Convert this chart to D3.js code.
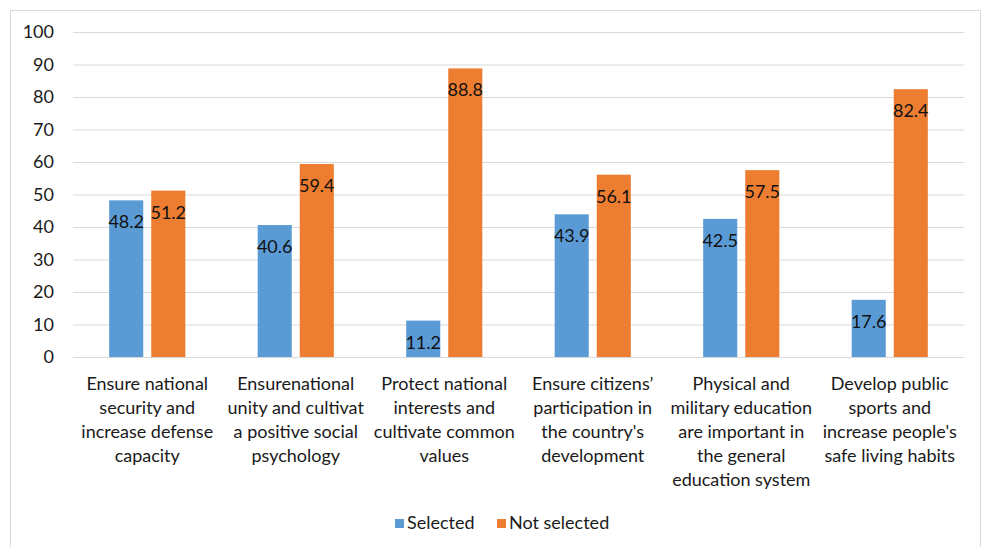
<!DOCTYPE html>
<html><head><meta charset="utf-8">
<script src="https://cdn.jsdelivr.net/npm/d3@7"></script>
<style>body{margin:0;background:#fff}svg{display:block}text{font-family:Lato,"Open Sans",sans-serif}</style>
</head><body><svg id="c" width="983" height="547"></svg>
<script>
const categories = [
  "Ensure national\nsecurity and\nincrease defense\ncapacity",
  "Ensurenational\nunity and cultivat\na positive social\npsychology",
  "Protect national\ninterests and\ncultivate common\nvalues",
  "Ensure citizens’\nparticipation in\nthe country's\ndevelopment",
  "Physical and\nmilitary education\nare important in\nthe general\neducation system",
  "Develop public\nsports and\nincrease people's\nsafe living habits"
];
const seriesNames = ["Selected", "Not selected"];
const selected = [48.2, 40.6, 11.2, 43.9, 42.5, 17.6];
const notSelected = [51.2, 59.4, 88.8, 56.1, 57.5, 82.4];
const yTicks = [0,10,20,30,40,50,60,70,80,90,100];
const colors = ["#5B9BD5", "#ED7D31"];

const FS = 18;
const svg = d3.select("#c");
svg.append("rect").attr("x",10.5).attr("y",10.5).attr("width",970).attr("height",540)
  .attr("fill","#fff").attr("stroke","#D9D9D9");

const L=73, R=964, T=32, B=357;
const x = d3.scaleBand().domain(d3.range(categories.length)).range([L,R]);
const y = d3.scaleLinear().domain([0,100]).range([B,T]);
const xs = d3.scaleBand().domain([0,1]).range([0, x.bandwidth()]).paddingInner(0.19).paddingOuter(0.86);

// gridlines
svg.append("g").selectAll("line").data(yTicks).join("line")
  .attr("x1",L).attr("x2",R).attr("y1",d=>y(d)+0.5).attr("y2",d=>y(d)+0.5)
  .attr("stroke","#D9D9D9").attr("stroke-width",1);

// y axis labels
const yAxis = d3.axisLeft(y).tickValues(yTicks).tickSize(0).tickPadding(19);
const gy = svg.append("g").attr("transform",`translate(${L},0)`).call(yAxis);
gy.select(".domain").remove();
gy.selectAll("text").attr("font-size",FS).attr("fill","#1a1a1a").style("font-family","Lato,sans-serif");

const series = [selected, notSelected];
series.forEach((vals,si)=>{
  const g = svg.append("g");
  g.selectAll("rect").data(vals).join("rect")
    .attr("x",(d,i)=>x(i)+xs(si)).attr("width",xs.bandwidth())
    .attr("y",d=>y(d)).attr("height",d=>y(0)-y(d)).attr("fill",colors[si]);
  g.selectAll("text").data(vals).join("text")
    .attr("x",(d,i)=>x(i)+xs(si)+xs.bandwidth()/2).attr("y",d=>y(d)+28)
    .attr("text-anchor","middle").attr("font-size",FS).attr("fill","#111")
    .text(d=>d.toFixed(1));
});

// baseline axis
svg.append("line").attr("x1",L).attr("x2",R).attr("y1",B+0.5).attr("y2",B+0.5).attr("stroke","#D9D9D9");

// category labels
const gx = svg.append("g");
categories.forEach((c,i)=>{
  const t = gx.append("text").attr("x",x(i)+x.bandwidth()/2).attr("y",390)
    .attr("text-anchor","middle").attr("font-size",FS).attr("fill","#1a1a1a");
  c.split("\n").forEach((ln,j)=>{
    t.append("tspan").attr("x",x(i)+x.bandwidth()/2).attr("dy",j===0?0:24).text(ln);
  });
});

// legend
const leg = svg.append("g");
const legX = [395, 497];
seriesNames.forEach((n,i)=>{
  leg.append("rect").attr("x",legX[i]).attr("y",519).attr("width",9).attr("height",9).attr("fill",colors[i]);
  leg.append("text").attr("x",legX[i]+12).attr("y",529).attr("font-size",FS).attr("fill","#1a1a1a").text(n);
});
</script></body></html>
